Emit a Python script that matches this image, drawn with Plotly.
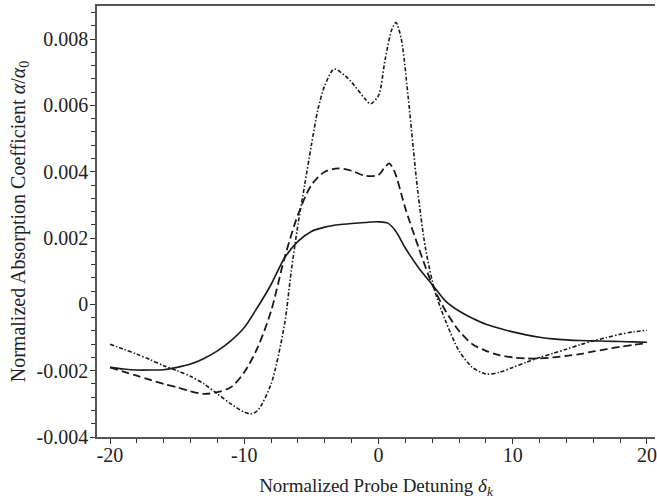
import plotly.graph_objects as go

# Solid curve
x_solid = [-20, -19, -18, -17, -16, -15, -14, -13, -12, -11, -10, -9, -8, -7, -6, -5, -4, -3, -2, -1, 0, 0.7, 1.3, 2, 3, 4, 5, 6, 7, 8, 9, 10, 11, 12, 13, 14, 15, 16, 17, 18, 19, 20]
y_solid = [-0.0019, -0.00195, -0.00198, -0.00198, -0.00197, -0.0019, -0.0018, -0.00163, -0.0014, -0.0011, -0.0007, -0.00008, 0.0006, 0.0014, 0.0019, 0.0022, 0.00233, 0.0024, 0.00244, 0.00247, 0.00249, 0.00245, 0.0022, 0.0017, 0.0011, 0.0006, 0.0001, -0.0002, -0.00042, -0.0006, -0.00072, -0.00083, -0.00092, -0.00099, -0.00104, -0.00107, -0.00109, -0.0011, -0.00111, -0.00112, -0.00113, -0.00114]

# Dashed curve
x_dash = [-20, -19, -18, -17, -16, -15, -14, -13, -12, -11, -10, -9, -8, -7, -6, -5, -4, -3, -2, -1, 0, 0.4, 0.8, 1.2, 2, 3, 4, 5, 6, 7, 8, 9, 10, 11, 12, 13, 14, 15, 16, 17, 18, 19, 20]
y_dash = [-0.0019, -0.00203, -0.00215, -0.00228, -0.0024, -0.0025, -0.00262, -0.0027, -0.00265, -0.0025, -0.00205, -0.0013, -0.0002, 0.0014, 0.0027, 0.0036, 0.004, 0.0041, 0.00403, 0.00388, 0.0039, 0.0041, 0.00425, 0.004, 0.0029, 0.0017, 0.0006, -0.0002, -0.0008, -0.0012, -0.0014, -0.00153, -0.0016, -0.00163, -0.00163, -0.0016, -0.00155, -0.0015, -0.00142, -0.00135, -0.00128, -0.00122, -0.00117]

# Dash-dot curve
x_dd = [-20, -19, -18, -17, -16, -15, -14, -13, -12, -11, -10, -9.5, -9, -8, -7, -6.5, -6, -5.5, -5, -4.5, -4, -3.3, -2.5, -2, -1, -0.6, 0, 0.5, 1.0, 1.3, 1.7, 2.2, 2.9, 3.5, 4.2, 5, 6, 7, 8, 9, 10, 11, 12, 13, 14, 15, 16, 17, 18, 19, 20]
y_dd = [-0.0012, -0.00135, -0.0015, -0.00167, -0.00185, -0.002, -0.00217, -0.0024, -0.0027, -0.003, -0.00325, -0.0033, -0.0032, -0.0024, -0.0006, 0.001, 0.0024, 0.0036, 0.0048, 0.0059, 0.0066, 0.0071, 0.0069, 0.0067, 0.0062, 0.00605, 0.0063, 0.0074, 0.0083, 0.0085, 0.008, 0.0063, 0.0035, 0.0017, 0.0004, -0.0005, -0.0014, -0.0019, -0.0021, -0.00205, -0.0019, -0.00175, -0.0016, -0.00148, -0.00135, -0.00122, -0.0011, -0.001, -0.0009, -0.00083, -0.00078]

x_tickvals = [-20, -10, 0, 10, 20]
x_ticktext = ["-20", "-10", "0", "10", "20"]
y_tickvals = [-0.004, -0.002, 0, 0.002, 0.004, 0.006, 0.008]
y_ticktext = ["-0.004", "-0.002", "0", "0.002", "0.004", "0.006", "0.008"]

line_col = "#1a1a1a"
fig = go.Figure()
fig.add_trace(go.Scatter(x=x_solid, y=y_solid, mode="lines", line=dict(color=line_col, width=1.6, shape="spline", smoothing=0.8)))
fig.add_trace(go.Scatter(x=x_dash, y=y_dash, mode="lines", line=dict(color=line_col, width=1.8, dash="8px,4px", shape="spline", smoothing=0.8)))
fig.add_trace(go.Scatter(x=x_dd, y=y_dd, mode="lines", line=dict(color=line_col, width=1.6, dash="4px,2px,1.5px,2px", shape="spline", smoothing=0.8)))

font = "Liberation Serif, Times New Roman, serif"
fig.update_layout(
    width=657, height=502,
    margin=dict(l=97, r=0, t=6, b=65),
    paper_bgcolor="white", plot_bgcolor="white",
    showlegend=False,
    font=dict(family=font, size=18, color="#222"),
    xaxis=dict(
        range=[-20.97, 20.6], tickvals=x_tickvals, ticktext=x_ticktext,
        showgrid=False, zeroline=False, showline=True, linecolor="#555", linewidth=1.5,
        mirror=True, ticks="outside", ticklen=5, tickcolor="#333", tickwidth=1,
        minor=dict(dtick=2, ticks="outside", ticklen=4, tickcolor="#333"),
        tickfont=dict(size=20), ticklabeloverflow="allow", ticklabelstandoff=-6,
        title=dict(text="Normalized Probe Detuning <i>δ</i><sub><i>k</i></sub>", font=dict(size=19), standoff=14),
    ),
    yaxis=dict(
        range=[-0.004, 0.009], tickvals=y_tickvals, ticktext=y_ticktext,
        showgrid=False, zeroline=False, showline=True, linecolor="#555", linewidth=1.5,
        ticks="outside", ticklen=5, tickcolor="#333", tickwidth=1,
        minor=dict(dtick=0.0004, tick0=0, ticks="outside", ticklen=4, tickcolor="#333"),
        tickfont=dict(size=20), ticklabelstandoff=-2,
        title=dict(text="Normalized Absorption Coefficient <i>α</i>/<i>α</i><sub>0</sub>", font=dict(size=20), standoff=6),
    ),
)
fig.write_html("out.html", config={"displayModeBar": False},
               post_script="document.body.style.margin='0';document.body.style.overflow='hidden';")
